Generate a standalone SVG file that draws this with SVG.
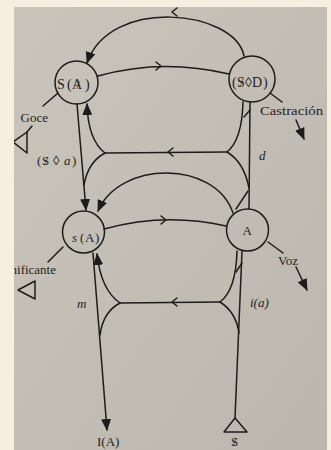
<svg xmlns="http://www.w3.org/2000/svg" width="331" height="450" viewBox="0 0 331 450">
<defs>
<linearGradient id="pg" x1="0" y1="0" x2="1" y2="1">
<stop offset="0" stop-color="#cac5bb"/>
<stop offset="1" stop-color="#bcb7ae"/>
</linearGradient>
<clipPath id="page"><rect x="14" y="7" width="313" height="443"/></clipPath>
<marker id="ah" markerWidth="12" markerHeight="10" refX="11" refY="5" orient="auto" markerUnits="userSpaceOnUse">
<path d="M0,0 L12,5 L0,10 z" fill="#1c1c1c"/>
</marker>
<style>
.ln{fill:none;stroke:#1c1c1c;stroke-width:1.5;stroke-linecap:round;stroke-linejoin:round}
.nd{fill:none;stroke:#1c1c1c;stroke-width:1.5}
.tx{font-family:"Liberation Serif","Times New Roman",serif;font-size:13px;fill:#1e1e1e}
.big{font-size:14px}
.it{font-style:italic}
.sl{font-family:"Liberation Serif","Times New Roman",serif;font-size:13px;fill:#1e1e1e;text-anchor:middle}
</style>
</defs>
<rect width="331" height="450" fill="#f6efdf"/>
<rect x="14" y="7" width="313" height="443" fill="url(#pg)"/>
<g clip-path="url(#page)">
<g id="connectors">
<path class="ln" d="M244,56 C235,10 110,-4 87,63" marker-end="url(#ah)"/>
<path class="ln" d="M177,8 L172,12 L177,16"/>
<path class="ln" d="M98,76 Q162,58 229,74"/>
<path class="ln" d="M156,62 L161,66 L156,70"/>
<path class="ln" d="M77,104 L86,210" marker-end="url(#ah)"/>
<path class="ln" d="M105,153 Q88,140 87,104" marker-end="url(#ah)"/>
<path class="ln" d="M105,153 Q88,162 84,185"/>
<path class="ln" d="M105,153 L227,152"/>
<path class="ln" d="M173,148 L168,152 L173,156"/>
<path class="ln" d="M227,152 Q242,140 243,102"/>
<path class="ln" d="M227,152 Q244,162 249,188"/>
<path class="ln" d="M244,117 L250,110"/>
<path class="ln" d="M250,102 L249,209"/>
<path class="ln" d="M233,213 C215,160 120,160 98,211" marker-end="url(#ah)"/>
<path class="ln" d="M236,209 L248,191"/>
<path class="ln" d="M104,229 Q165,212 226,226"/>
<path class="ln" d="M161,216 L166,220 L161,224"/>
<path class="ln" d="M93,253 L107,430" marker-end="url(#ah)"/>
<path class="ln" d="M120,303 Q101,290 97,254" marker-end="url(#ah)"/>
<path class="ln" d="M120,303 Q103,312 100,335"/>
<path class="ln" d="M120,303 L220,302"/>
<path class="ln" d="M177,298 L172,302 L177,306"/>
<path class="ln" d="M220,302 Q236,290 237,251"/>
<path class="ln" d="M220,302 Q236,312 239,333"/>
<path class="ln" d="M236,272 L242,263"/>
<path class="ln" d="M242,251 L235,418"/>
<path class="ln" d="M58,93 L43,106"/>
<path class="ln" d="M270,93 L282,102"/>
<path class="ln" d="M296,120 L304,139" marker-end="url(#ah)"/>
<path class="ln" d="M268,242 L283,253"/>
<path class="ln" d="M296,267 L307,290" marker-end="url(#ah)"/>
<path class="ln" d="M63,247 L48,262"/>
<path class="ln" d="M32,126 L27,132"/>
</g>
<g id="node-SA">
<circle class="nd" cx="76.5" cy="82.5" r="21.5"/>
<text class="tx big" x="57" y="89">S<tspan x="67">(</tspan><tspan x="72">A</tspan><tspan x="85">)</tspan></text>
<text class="sl big" x="78" y="89">/</text>
</g>
<g id="node-SD">
<circle class="nd" cx="252" cy="79" r="23"/>
<text class="tx big" x="232" y="87">(<tspan x="237">S</tspan><tspan x="245">&#x25CA;</tspan><tspan x="252">D</tspan><tspan x="263">)</tspan></text>
<text class="sl big" x="241.5" y="87">/</text>
</g>
<g id="node-sA">
<circle class="nd" cx="83.5" cy="232" r="21"/>
<text class="tx" x="72" y="242"><tspan class="it">s</tspan><tspan x="80">(</tspan><tspan x="85">A</tspan><tspan x="95">)</tspan></text>
</g>
<g id="node-A">
<circle class="nd" cx="247.5" cy="230" r="21"/>
<text class="tx" x="242.5" y="235">A</text>
</g>
<g id="node-goce">
<text class="tx" x="20.5" y="122">Goce</text>
<polygon class="ln" points="27,132 13,142 27,153"/>
</g>
<g id="node-significante">
<text class="tx" x="56" y="274" text-anchor="end">nificante</text>
<polygon class="ln" points="35,281 18,290 35,299"/>
</g>
<g id="node-castracion">
<text class="tx" x="260" y="115" textLength="63" lengthAdjust="spacingAndGlyphs">Castración</text>
</g>
<g id="node-voz">
<text class="tx" x="278" y="265">Voz</text>
</g>
<g id="node-IA">
<text class="tx" x="97" y="446">I(A)</text>
</g>
<g id="node-S">
<polygon class="ln" points="235,418 224,432 247,432"/>
<text class="tx" x="231" y="446">S</text>
<text class="sl" x="234.5" y="446">/</text>
</g>
<g id="labels">
<text class="tx" x="37" y="165">(<tspan x="42">S</tspan><tspan x="53">&#x25CA;</tspan><tspan x="64" class="it">a</tspan><tspan x="72">)</tspan></text>
<text class="sl" x="46" y="165">/</text>
<text class="tx it" x="259" y="160">d</text>
<text class="tx it" x="77" y="308">m</text>
<text class="tx it" x="250" y="307">i(a)</text>
</g>
</g>
</svg>
